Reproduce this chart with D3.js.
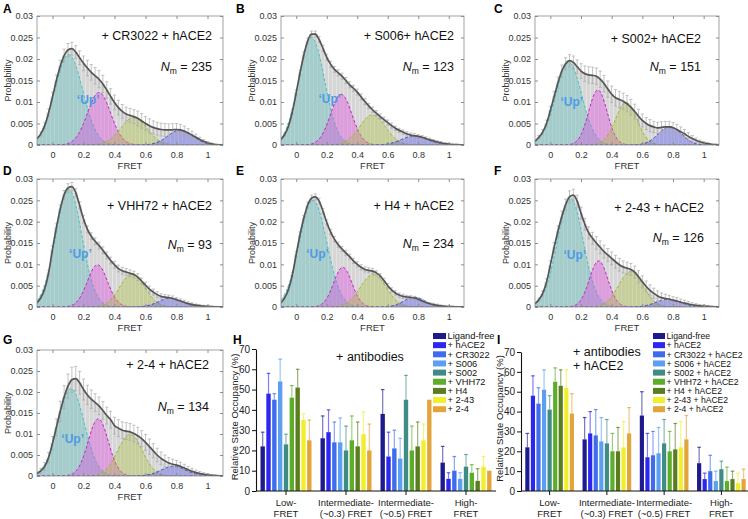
<!DOCTYPE html>
<html>
<head>
<meta charset="utf-8">
<script src="https://cdn.jsdelivr.net/npm/d3@7"></script>
<style>
body{margin:0;background:#fff;}
svg{display:block;font-family:"Liberation Sans",Arial,Helvetica,sans-serif;}
</style>
</head>
<body>
<div id="fig"></div>
<script>
// ---- histogram panels A-G ----
var panelIds = ['A','B','C','D','E','F','G'];
var panelTitles = ['+ CR3022 + hACE2','+ S006+ hACE2','+ S002+ hACE2','+ VHH72 + hACE2','+ H4 + hACE2','+ 2-43 + hACE2','+ 2-4 + hACE2'];
var nMolecules = [235, 123, 151, 93, 234, 126, 134];

// FRET bins: centres from -0.1 to 1.1, step 0.025; probabilities in units of 1e-3
var binStart = -0.1, binWidth = 0.025;
var histA = [1.5,2.6,4.5,7.5,11.2,15.0,18.3,20.8,22.1,22.4,21.6,20.3,19.0,17.9,16.9,16.1,15.3,14.2,12.8,11.3,9.9,8.7,7.8,7.2,6.9,6.6,6.2,5.6,5.0,4.5,4.1,3.8,3.6,3.5,3.5,3.55,3.6,3.5,3.2,2.8,2.3,1.8,1.3,0.85,0.5,0.25,0.12,0.06,0.03];
var histB = [1.3,2.5,4.5,7.8,12.2,16.8,21.0,24.2,25.8,25.8,24.5,22.5,20.4,18.8,17.6,16.8,16.0,15.0,14.0,13.2,12.3,11.2,10.1,9.1,8.2,7.4,6.6,5.9,5.2,4.5,3.9,3.4,3.0,2.6,2.3,2.15,2.0,1.8,1.5,1.2,0.95,0.7,0.5,0.32,0.2,0.12,0.07,0.04,0.02];
var histC = [0.9,1.8,3.0,5.0,8.0,11.3,14.5,17.2,18.9,19.6,19.2,18.2,17.2,16.6,16.3,16.2,16.0,15.3,14.3,13.0,11.8,11.0,10.6,10.2,9.6,8.8,7.8,6.7,5.7,5.0,4.5,4.2,4.0,4.1,4.2,4.2,4.0,3.6,3.1,2.6,2.0,1.5,1.1,0.75,0.5,0.3,0.17,0.09,0.05];
var histD = [1.0,2.2,4.3,8.0,13.5,18.6,23.0,26.3,27.9,28.2,26.8,23.8,20.6,18.2,16.6,15.4,14.4,13.3,12.1,10.9,9.9,9.0,8.5,8.2,7.9,7.6,7.0,6.1,5.1,4.2,3.5,2.9,2.5,2.3,2.2,2.0,1.7,1.4,1.1,0.8,0.6,0.42,0.3,0.2,0.13,0.08,0.05,0.03,0.02];
var histE = [1.0,2.2,4.2,7.6,12.4,17.0,20.9,23.9,25.5,25.8,24.8,22.5,19.8,17.6,15.9,14.6,13.6,12.7,11.8,10.8,10.0,9.3,8.8,8.6,8.4,8.0,7.3,6.2,5.0,4.0,3.3,2.8,2.5,2.35,2.25,2.1,1.8,1.4,1.05,0.75,0.55,0.38,0.26,0.18,0.12,0.08,0.05,0.03,0.02];
var histF = [0.8,1.7,3.2,5.8,9.8,14.0,17.8,21.2,24.0,25.8,26.2,24.8,22.0,19.4,17.4,16.1,15.0,14.0,13.0,12.2,11.4,10.6,9.9,9.4,9.1,8.8,8.2,7.1,5.9,4.8,3.9,3.2,2.6,2.2,2.0,1.85,1.6,1.4,1.15,0.9,0.7,0.52,0.38,0.28,0.2,0.13,0.08,0.05,0.03];
var histG = [0.6,1.2,2.3,4.4,7.8,11.6,15.4,18.8,21.4,22.9,23.2,22.2,20.6,19.3,18.3,17.5,16.7,15.6,14.4,13.4,12.0,11.4,10.9,10.7,10.5,10.1,9.6,8.9,8.0,7.0,6.0,5.0,4.2,3.6,3.1,2.8,2.6,2.3,1.9,1.5,1.1,0.8,0.55,0.38,0.25,0.15,0.09,0.05,0.03];

var errA = [0.3,0.5,0.7,0.9,1.1,1.3,1.4,1.5,1.5,1.5,1.5,1.6,1.7,1.8,1.8,1.9,2.0,2.0,1.9,1.8,1.7,1.7,1.6,1.6,1.6,1.6,1.7,1.7,1.6,1.6,1.5,1.5,1.5,1.5,1.4,1.4,1.4,1.3,1.2,1.0,0.9,0.7,0.5,0.4,0.3,0.2,0.1,0.1,0.1];
var errB = [0.2,0.3,0.4,0.5,0.6,0.6,0.7,0.7,0.7,0.7,0.7,0.7,0.7,0.7,0.7,0.7,0.7,0.7,0.7,0.7,0.7,0.7,0.7,0.6,0.6,0.6,0.6,0.6,0.6,0.6,0.5,0.5,0.5,0.5,0.5,0.5,0.4,0.4,0.4,0.4,0.3,0.3,0.3,0.2,0.2,0.1,0.1,0.1,0.1];
var errC = [0.2,0.4,0.6,0.8,1.0,1.2,1.3,1.4,1.4,1.4,1.5,1.6,1.7,1.8,1.9,1.9,1.9,1.9,1.9,1.9,1.9,1.9,1.9,1.9,1.9,1.8,1.7,1.6,1.5,1.4,1.4,1.3,1.3,1.3,1.3,1.3,1.2,1.2,1.1,1.0,0.9,0.7,0.5,0.4,0.3,0.2,0.1,0.1,0.1];
var errD = [0.2,0.3,0.5,0.6,0.8,0.9,0.9,1.0,1.0,1.0,0.9,0.9,0.9,0.8,0.8,0.8,0.8,0.8,0.8,0.8,0.8,0.8,0.8,0.8,0.8,0.8,0.8,0.7,0.7,0.7,0.7,0.7,0.6,0.6,0.6,0.6,0.5,0.5,0.5,0.4,0.4,0.3,0.3,0.2,0.2,0.1,0.1,0.1,0.1];
var errE = [0.2,0.3,0.4,0.5,0.6,0.6,0.6,0.7,0.7,0.7,0.7,0.6,0.6,0.6,0.6,0.6,0.6,0.6,0.6,0.6,0.6,0.6,0.6,0.6,0.6,0.5,0.5,0.5,0.5,0.5,0.5,0.5,0.5,0.4,0.4,0.4,0.4,0.4,0.3,0.3,0.3,0.3,0.2,0.2,0.2,0.1,0.1,0.1,0.1];
var errF = [0.2,0.4,0.6,0.8,1.0,1.1,1.2,1.3,1.3,1.4,1.4,1.4,1.4,1.4,1.4,1.4,1.5,1.5,1.5,1.5,1.5,1.5,1.5,1.4,1.4,1.4,1.4,1.4,1.4,1.3,1.3,1.2,1.2,1.1,1.0,0.9,0.8,0.8,0.7,0.7,0.6,0.5,0.4,0.3,0.3,0.2,0.1,0.1,0.1];
var errG = [0.3,0.6,0.9,1.2,1.6,2.0,2.4,2.7,2.9,3.0,2.9,2.7,2.5,2.3,2.2,2.1,2.1,2.1,2.0,2.0,2.0,2.0,2.0,2.0,2.0,2.0,2.0,1.9,1.9,1.8,1.7,1.6,1.5,1.4,1.3,1.2,1.1,1.0,0.9,0.8,0.7,0.6,0.5,0.4,0.3,0.2,0.2,0.1,0.1];

var hists = [histA, histB, histC, histD, histE, histF, histG];
var errs = [errA, errB, errC, errD, errE, errF, errG];

// fitted Gaussian states (low, ~0.3, ~0.5, high FRET): centre, width, peak (1e-3)
var stateMu = [[0.105,0.30,0.525,0.825],[0.10,0.295,0.50,0.775],[0.12,0.31,0.495,0.78],[0.105,0.29,0.515,0.76],[0.11,0.305,0.505,0.775],[0.13,0.315,0.525,0.77],[0.12,0.295,0.50,0.78]];
var stateSd = [[0.09,0.075,0.085,0.08],[0.085,0.07,0.085,0.085],[0.085,0.06,0.07,0.075],[0.085,0.065,0.08,0.075],[0.09,0.06,0.085,0.07],[0.085,0.06,0.08,0.08],[0.085,0.065,0.08,0.08]];
var stateAmp = [[21.0,12.2,6.4,3.5],[25.0,11.8,7.0,2.1],[19.2,12.8,9.9,4.3],[27.5,9.9,7.8,2.1],[25.0,9.3,7.6,2.3],[25.5,10.8,8.3,1.8],[20.8,13.6,9.9,2.3]];

// 'Up' label anchor (FRET, probability)
var upAt = [[0.23,0.0105],[0.22,0.0107],[0.14,0.0102],[0.18,0.0125],[0.14,0.0125],[0.16,0.0122],[0.13,0.0090]];

// ---- occupancy bar panels H, I ----
var stateGroups = [['Low-','FRET'],['Intermediate-','(~0.3) FRET'],['Intermediate-','(~0.5) FRET'],['High-','FRET']];
var labelsH = ['Ligand-free','+ hACE2','+ CR3022','+ S006','+ S002','+ VHH72','+ H4','+ 2-43','+ 2-4'];
var labelsI = ['Ligand-free','+ hACE2','+ CR3022 + hACE2','+ S006 + hACE2','+ S002 + hACE2','+ VHH72 + hACE2','+ H4 + hACE2','+ 2-43 + hACE2','+ 2-4 + hACE2'];
// rows = conditions, columns = Low, Int(0.3), Int(0.5), High
var occH = [[22,26,38,14],[48,29,17,6],[45,24,21,10],[54,24,16,6],[23,20,45,12],[46,25,20,9],[51,22,22,5],[35,28,25,12],[25,20,45,10]];
var occErrH = [[7,11,12,8],[10,11,12,3],[3,10,9,7],[11,12,10,3],[5,12,12,6],[6,12,12,4],[9,12,12,6],[3,11,8,5],[10,13,0,0]];
var occI = [[22,26,38,14],[48,29,17,6],[44,28,18,10],[51,25,19,5],[41,24,24,11],[55,20,20,5],[53,20,21,6],[52,22,22,4],[39,29,26,6]];
var occErrI = [[7,11,12,8],[10,11,12,3],[8,13,12,8],[10,12,13,5],[7,12,12,4],[7,9,10,7],[8,12,13,4],[9,13,13,5],[10,13,12,5]];
var yTicks = [0,10,20,30,40,50,60,70];

var barColors = ['#1d1a8e','#2c26f0','#3d6cee','#5c9ff0','#3f8b85','#5cad2a','#5a7d1f','#f1ef2b','#e3a43a'];
var stateFill = ['#4fb8b8','#e03ce0','#a6c035','#4b4bf0'];
var stateStroke = ['#3cc4c4','#c21ec2','#98b42a','#3434e0'];

var svg = d3.select('#fig').append('svg').attr('width', 748).attr('height', 519);

var colLeft = [37, 281, 535], colRight = [223, 464, 719];
var rowTop = [16, 179, 350], rowBottom = [145, 307, 476];
var letterX = [3, 236, 494], letterY = [13, 175, 344];
var titlePad = [11, 10, 18, 11, 10, 15, 14];
var titleDy = [23.5, 23.5, 26.5, 30.5, 30.5, 32.5, 18.5];
var nmDy = [54.5, 54.5, 55, 69.5, 69, 62.5, 61];

function letter(x, y, t){
    svg.append('text').attr('x', x).attr('y', y)
        .style('font-weight', 'bold').style('font-size', '12px').text(t);
}

function histPanel(i){
    var row = Math.floor(i / 3), col = i % 3;
    var x = d3.scaleLinear().domain([-0.1, 1.1]).range([colLeft[col], colRight[col]]);
    var y = d3.scaleLinear().domain([0, 0.03]).range([rowBottom[row], rowTop[row]]);
    var g = svg.append('g');

    g.append('clipPath').attr('id', 'clip' + i).append('rect')
        .attr('x', x(-0.1)).attr('y', y(0.03))
        .attr('width', x(1.1) - x(-0.1)).attr('height', y(0) - y(0.03));
    var plot = g.append('g').attr('clip-path', 'url(#clip' + i + ')');

    var bins = hists[i].map(function(v, k){
        return {x: binStart + k * binWidth, p: v / 1000, e: errs[i][k] / 1000};
    });
    var bw = x(binWidth) - x(0);

    plot.selectAll('rect.bin').data(bins).enter().append('rect')
        .attr('class', 'bin')
        .attr('x', function(d){ return x(d.x) - bw / 2; })
        .attr('width', bw)
        .attr('y', function(d){ return y(d.p); })
        .attr('height', function(d){ return y(0) - y(d.p); })
        .attr('fill', '#d6d6d6')
        .attr('stroke', '#ebebeb')
        .attr('stroke-width', 0.4);

    // gaussian states
    var xs = d3.range(-0.1, 1.1001, 0.004);
    for (var s = 0; s < 4; s++){
        var mu = stateMu[i][s], sd = stateSd[i][s], a = stateAmp[i][s] / 1000;
        var pts = xs.map(function(v){ return [v, a * Math.exp(-(v - mu) * (v - mu) / (2 * sd * sd))]; });
        plot.append('path').datum(pts)
            .attr('d', d3.area().x(function(d){ return x(d[0]); }).y0(y(0)).y1(function(d){ return y(d[1]); }))
            .attr('fill', stateFill[s]).attr('fill-opacity', 0.36);
        plot.append('path').datum(pts)
            .attr('d', d3.line().x(function(d){ return x(d[0]); }).y(function(d){ return y(d[1]); }))
            .attr('fill', 'none').attr('stroke', stateStroke[s])
            .attr('stroke-width', 1).attr('stroke-dasharray', '3,2');
    }

    // error bars
    var eb = plot.append('g').attr('stroke', '#aaaaaa').attr('stroke-width', 0.7);
    bins.forEach(function(d){
        var cx = x(d.x), top = y(d.p + d.e), bot = y(Math.max(0, d.p - d.e));
        eb.append('line').attr('x1', cx).attr('x2', cx).attr('y1', top).attr('y2', bot);
        eb.append('line').attr('x1', cx - 1.6).attr('x2', cx + 1.6).attr('y1', top).attr('y2', top);
        eb.append('line').attr('x1', cx - 1.6).attr('x2', cx + 1.6).attr('y1', bot).attr('y2', bot);
    });

    // overall distribution
    plot.append('path').datum(bins)
        .attr('d', d3.line().x(function(d){ return x(d.x); }).y(function(d){ return y(d.p); }).curve(d3.curveMonotoneX))
        .attr('fill', 'none').attr('stroke', '#555555').attr('stroke-width', 1.7);

    // frame and axes
    g.append('g').attr('transform', 'translate(0,' + y(0) + ')')
        .call(d3.axisBottom(x).tickValues([0, 0.2, 0.4, 0.6, 0.8, 1]).tickSize(-3).tickPadding(6.6)
            .tickFormat(function(d){ return d === 0 ? '0' : d === 1 ? '1' : d3.format('.1f')(d); }));
    g.append('g').attr('transform', 'translate(' + x(-0.1) + ',0)')
        .call(d3.axisLeft(y).tickValues([0, 0.005, 0.01, 0.015, 0.02, 0.025, 0.03]).tickSize(-3).tickPadding(4)
            .tickFormat(function(d){ return d === 0 ? '0' : String(+d.toFixed(3)); }));
    g.append('g').attr('transform', 'translate(0,' + y(0.03) + ')')
        .call(d3.axisTop(x).tickValues([0, 0.2, 0.4, 0.6, 0.8, 1]).tickSize(-3).tickFormat(''));
    g.append('g').attr('transform', 'translate(' + x(1.1) + ',0)')
        .call(d3.axisRight(y).tickValues([0, 0.005, 0.01, 0.015, 0.02, 0.025, 0.03]).tickSize(-3).tickFormat(''));
    g.selectAll('.domain').remove();
    g.selectAll('.tick line').attr('stroke', '#8c8c8c');
    g.selectAll('.tick text').attr('fill', '#333').style('font-size', '9px')
        .style('font-family', '"Liberation Sans",Arial,sans-serif');
    g.append('rect').attr('x', x(-0.1)).attr('y', y(0.03))
        .attr('width', x(1.1) - x(-0.1)).attr('height', y(0) - y(0.03))
        .attr('fill', 'none').attr('stroke', '#8c8c8c').attr('stroke-width', 0.8);

    g.append('text').attr('x', (x(-0.1) + x(1.1)) / 2).attr('y', y(0) + 23.5)
        .attr('text-anchor', 'middle').attr('fill', '#333').style('font-size', '9.5px').text('FRET');
    g.append('text')
        .attr('transform', 'translate(' + (x(-0.1) - 26) + ',' + ((y(0) + y(0.03)) / 2) + ') rotate(-90)')
        .attr('text-anchor', 'middle').attr('fill', '#333').style('font-size', '9px').text('Probability');

    // annotations
    var right = x(1.1) - titlePad[i];
    g.append('text').attr('x', right).attr('y', y(0.03) + titleDy[i])
        .attr('text-anchor', 'end').attr('fill', '#111').style('font-size', '12.5px').text(panelTitles[i]);
    var nm = g.append('text').attr('x', right).attr('y', y(0.03) + nmDy[i])
        .attr('text-anchor', 'end').attr('fill', '#111').style('font-size', '12.5px');
    nm.append('tspan').style('font-style', 'italic').text('N');
    nm.append('tspan').attr('dy', 3).style('font-size', '8.5px').text('m');
    nm.append('tspan').attr('dy', -3).text(' = ' + nMolecules[i]);

    g.append('text').attr('x', x(upAt[i][0])).attr('y', y(upAt[i][1]) + 4.5)
        .attr('text-anchor', 'middle').attr('fill', '#4d9be3')
        .style('font-size', '12px').style('font-weight', 'bold').text('\u2018Up\u2019');

    letter(letterX[col], letterY[row], panelIds[i]);
}

for (var i = 0; i < 7; i++) histPanel(i);

function barPanel(cfg){
    var x0 = d3.scaleBand().domain(d3.range(stateGroups.length)).range(cfg.xr).paddingInner(0.15).paddingOuter(0.075);
    var x1 = d3.scaleBand().domain(d3.range(cfg.labels.length)).range([0, x0.bandwidth()]).paddingInner(0.25);
    var y = d3.scaleLinear().domain([0, 70]).range(cfg.yr);
    var g = svg.append('g');

    cfg.vals.forEach(function(row, c){
        row.forEach(function(v, s){
            var bx = x0(s) + x1(c);
            g.append('rect').attr('x', bx).attr('y', y(v))
                .attr('width', x1.bandwidth()).attr('height', y(0) - y(v))
                .attr('fill', barColors[c]);
            var e = cfg.errs[c][s];
            if (e > 0){
                var cx = bx + x1.bandwidth() / 2;
                g.append('line').attr('x1', cx).attr('x2', cx).attr('y1', y(v)).attr('y2', y(v + e))
                    .attr('stroke', barColors[c]).attr('stroke-opacity', 0.6).attr('stroke-width', 1.2);
                g.append('line').attr('x1', cx - 1.8).attr('x2', cx + 1.8).attr('y1', y(v + e)).attr('y2', y(v + e))
                    .attr('stroke', barColors[c]).attr('stroke-opacity', 0.75).attr('stroke-width', 1.2);
            }
        });
    });

    var ya = g.append('g').attr('transform', 'translate(' + cfg.xr[0] + ',0)')
        .call(d3.axisLeft(y).tickValues(yTicks).tickSize(4).tickSizeOuter(0).tickPadding(2));
    var xa = g.append('g').attr('transform', 'translate(0,' + y(0) + ')')
        .call(d3.axisBottom(x0).tickSize(4).tickSizeOuter(0).tickFormat(''));
    xa.select('.domain').attr('d', 'M' + cfg.xr[0] + ',0H' + cfg.xr[1]);
    g.selectAll('.domain').attr('stroke', '#111').attr('stroke-width', 1.1);
    g.selectAll('.tick line').attr('stroke', '#111');
    ya.selectAll('.tick text').attr('fill', '#222').style('font-size', '10px')
        .style('font-family', '"Liberation Sans",Arial,sans-serif');

    stateGroups.forEach(function(lines, s){
        var cx = x0(s) + x0.bandwidth() / 2;
        lines.forEach(function(t, k){
            g.append('text').attr('x', cx).attr('y', y(0) + 14.5 + k * 11)
                .attr('text-anchor', 'middle').attr('fill', '#222').style('font-size', '9.5px').text(t);
        });
    });

    g.append('text')
        .attr('transform', 'translate(' + (cfg.xr[0] - 18) + ',' + ((y(0) + y(70)) / 2 - 3) + ') rotate(-90)')
        .attr('text-anchor', 'middle').attr('fill', '#222').style('font-size', '9.5px')
        .text('Relative State Occupancy (%)');

    cfg.notes.forEach(function(t, k){
        g.append('text').attr('x', cfg.noteX).attr('y', cfg.noteY + k * 14)
            .attr('text-anchor', cfg.noteAnchor).attr('fill', '#111').style('font-size', '12.5px').text(t);
    });

    var lg = g.append('g');
    cfg.labels.forEach(function(t, c){
        var ly = 336 + c * 9.15;
        lg.append('rect').attr('x', cfg.legendX).attr('y', ly - 3).attr('width', cfg.swatchW).attr('height', 6)
            .attr('fill', barColors[c]);
        lg.append('text').attr('x', cfg.legendX + cfg.swatchW + 1.5).attr('y', ly + 3.2)
            .attr('fill', '#111').style('font-size', cfg.legendFont).text(t);
    });

    letter(cfg.letterX, cfg.letterY, cfg.letter);
}

barPanel({xr: [256, 496], yr: [491, 349], vals: occH, errs: occErrH, labels: labelsH,
    notes: ['+ antibodies'], noteX: 370, noteY: 361, noteAnchor: 'middle',
    legendX: 433, swatchW: 13, legendFont: '9.3px', letter: 'H', letterX: 233, letterY: 344});
barPanel({xr: [521, 750], yr: [491, 352], vals: occI, errs: occErrI, labels: labelsI,
    notes: ['+ antibodies', '+ hACE2'], noteX: 573, noteY: 356, noteAnchor: 'start',
    legendX: 653, swatchW: 12, legendFont: '8.6px', letter: 'I', letterX: 497, letterY: 344});
</script>
</body>
</html>
